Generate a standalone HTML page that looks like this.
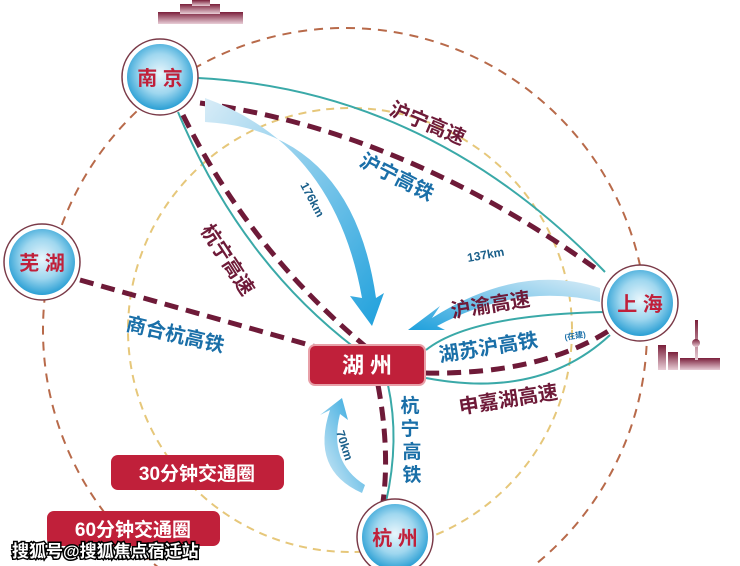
<!DOCTYPE html>
<html><head><meta charset="utf-8"><style>
html,body{margin:0;padding:0;background:#fff;width:740px;height:566px;overflow:hidden}
svg{display:block}
svg text{font-family:"Liberation Sans","Noto Sans CJK SC",sans-serif;font-weight:bold}
</style></head><body>
<svg width="740" height="566" viewBox="0 0 740 566" xmlns="http://www.w3.org/2000/svg">
<defs>
<radialGradient id="ball" cx="50%" cy="45%" r="55%">
<stop offset="0" stop-color="#e9f6fc"/><stop offset="0.55" stop-color="#9fd7ef"/><stop offset="1" stop-color="#2a9fd4"/>
</radialGradient>
<linearGradient id="a176" x1="0" y1="0" x2="1" y2="1"><stop offset="0" stop-color="#d8ecf7"/><stop offset="1" stop-color="#1ea0dc"/></linearGradient>
<linearGradient id="a137" x1="1" y1="0" x2="0" y2="1"><stop offset="0" stop-color="#d8ecf7"/><stop offset="1" stop-color="#1ea0dc"/></linearGradient>
<linearGradient id="a70" x1="0" y1="1" x2="1" y2="0"><stop offset="0" stop-color="#e2f0f8"/><stop offset="1" stop-color="#1ea0dc"/></linearGradient>
<linearGradient id="sky" x1="0" y1="0" x2="0" y2="1"><stop offset="0" stop-color="#7a1f3a"/><stop offset="1" stop-color="#e8cdd6"/></linearGradient>
</defs>
<circle cx="345" cy="330" r="302" fill="none" stroke="#b86a4a" stroke-width="2" stroke-dasharray="9,7"/>
<circle cx="350" cy="330" r="222" fill="none" stroke="#e6c77a" stroke-width="2" stroke-dasharray="8,6"/>
<g fill="url(#sky)">
<rect x="158" y="12" width="85" height="12"/><rect x="180" y="4" width="40" height="10"/><rect x="192" y="0" width="18" height="6"/>
<rect x="658" y="345" width="8" height="25"/><rect x="668" y="352" width="10" height="18"/><rect x="680" y="358" width="40" height="12"/><rect x="695" y="320" width="3" height="40"/><circle cx="696" cy="343" r="4"/>
</g>
<g fill="none" stroke="#3aa9a8" stroke-width="2">
<path d="M198,78 Q430,90 605,272"/>
<path d="M178,112 Q240,260 355,348"/>
<path d="M426,350 Q470,315 604,312"/>
<path d="M426,378 Q540,400 610,335"/>
<path d="M388,385 Q400,440 386,502"/>
</g>
<g fill="none" stroke="#6e1a38" stroke-width="5" stroke-dasharray="14,8">
<path d="M200,103 Q400,130 595,268"/>
<path d="M183,115 Q250,250 365,346"/>
<path d="M80,280 L320,348"/>
<path d="M425,373 Q540,375 610,330"/>
<path d="M378,385 Q390,450 383,502"/>
</g>
<path d="M205,98 Q335,145 362,298 L350,296 L372,326 L384,293 L376,298 Q352,130 205,122 Z" fill="url(#a176)"/>
<path d="M600,288 Q520,262 432,318 L440,306 L408,330 L445,330 L437,326 Q520,282 600,302 Z" fill="url(#a137)"/>
<path d="M362,493 Q310,470 330,410 L320,415 L342,398 L348,420 L340,414 Q328,462 365,485 Z" fill="url(#a70)"/>
<g stroke="#7a3a48" stroke-width="1.5">
<circle cx="160" cy="77" r="38" fill="#fff"/><circle cx="160" cy="77" r="33" fill="url(#ball)" stroke="none"/>
<circle cx="42" cy="262" r="38" fill="#fff"/><circle cx="42" cy="262" r="33" fill="url(#ball)" stroke="none"/>
<circle cx="640" cy="303" r="38" fill="#fff"/><circle cx="640" cy="303" r="33" fill="url(#ball)" stroke="none"/>
<circle cx="395" cy="537" r="38" fill="#fff"/><circle cx="395" cy="537" r="33" fill="url(#ball)" stroke="none"/>
</g>
<g font-size="20" fill="#c0203a" text-anchor="middle">
<text x="160" y="85">南 京</text><text x="42" y="270">芜 湖</text><text x="640" y="311">上 海</text><text x="395" y="545">杭 州</text>
</g>
<rect x="309" y="345" width="116" height="40" rx="6" fill="#c0203a" stroke="#e8a0a8" stroke-width="2"/>
<text x="367" y="373" font-size="22" fill="#fff" text-anchor="middle">湖 州</text>
<g font-size="20">
<text transform="translate(388,114) rotate(23)" fill="#6e1a38">沪宁高速</text>
<text transform="translate(358,165) rotate(27)" fill="#1a6fa8">沪宁高铁</text>
<text transform="translate(200,230) rotate(57)" fill="#6e1a38">杭宁高速</text>
<text transform="translate(125,330) rotate(13)" fill="#1a6fa8">商合杭高铁</text>
<text transform="translate(452,318) rotate(-9)" fill="#6e1a38">沪渝高速</text>
<text transform="translate(440,362) rotate(-9)" fill="#1a6fa8">湖苏沪高铁</text>
<text transform="translate(565,340) rotate(-9)" fill="#1a6fa8" font-size="8">(在建)</text>
<text transform="translate(460,414) rotate(-9)" fill="#6e1a38">申嘉湖高速</text>
</g>
<g font-size="19" fill="#1a6fa8" text-anchor="middle">
<text x="410" y="412">杭</text><text x="410" y="435">宁</text><text x="412" y="458">高</text><text x="412" y="481">铁</text>
</g>
<g font-size="12" fill="#1a5f8a">
<text transform="translate(300,185) rotate(62)">176km</text>
<text transform="translate(468,262) rotate(-10)">137km</text>
<text transform="translate(336,432) rotate(72)">70km</text>
</g>
<rect x="111" y="455" width="173" height="35" rx="7" fill="#c0203a"/>
<text x="197" y="480" font-size="19" fill="#fff" text-anchor="middle">30分钟交通圈</text>
<rect x="47" y="511" width="173" height="35" rx="7" fill="#c0203a"/>
<text x="133" y="536" font-size="19" fill="#fff" text-anchor="middle">60分钟交通圈</text>
<text x="12" y="557" font-size="17" fill="#fff" stroke="#000" stroke-width="3" paint-order="stroke">搜狐号@搜狐焦点宿迁站</text>
</svg>
</body></html>
